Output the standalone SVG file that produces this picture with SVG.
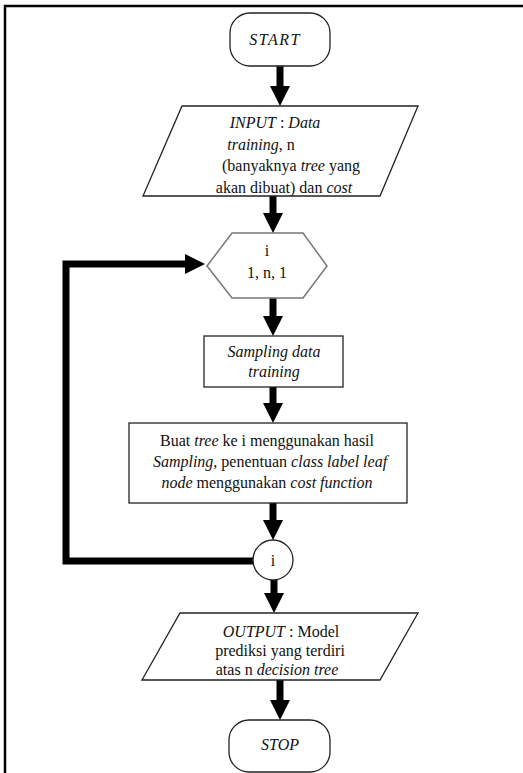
<svg xmlns="http://www.w3.org/2000/svg" width="523" height="773" viewBox="0 0 523 773">
<style>
  .t { font-family: "Liberation Serif", "Times New Roman", serif; font-size: 16px; fill: #111; text-anchor: middle; }
  .i { font-style: italic; }
  .shape { fill: #fff; stroke: #222; stroke-width: 1.3; }
  .hex { fill: #fff; stroke: #777; stroke-width: 1.5; }
  .conn { fill: none; stroke: #000; stroke-width: 7; stroke-linejoin: miter; }
</style>
<defs>
  <marker id="ah" markerUnits="userSpaceOnUse" markerWidth="20" markerHeight="20" refX="0" refY="10" orient="auto">
    <path d="M0,0 L20,10 L0,20 Z" fill="#000"/>
  </marker>
</defs>
<rect width="523" height="773" fill="#fff"/>
<path d="M5,773 V6 H523" fill="none" stroke="#000" stroke-width="2.5"/>

<g id="connectors">
  <line class="conn" x1="280" y1="66" x2="280" y2="86" marker-end="url(#ah)"/>
  <line class="conn" x1="273" y1="196" x2="273" y2="213" marker-end="url(#ah)"/>
  <line class="conn" x1="273" y1="298" x2="273" y2="316" marker-end="url(#ah)"/>
  <line class="conn" x1="273" y1="387" x2="273" y2="403" marker-end="url(#ah)"/>
  <line class="conn" x1="273" y1="503" x2="273" y2="520" marker-end="url(#ah)"/>
  <line class="conn" x1="274" y1="580" x2="274" y2="593" marker-end="url(#ah)"/>
  <line class="conn" x1="280" y1="680" x2="280" y2="700" marker-end="url(#ah)"/>
  <path class="conn" d="M254,561 H66 V264 H185" marker-end="url(#ah)"/>
</g>

<g id="start">
  <rect class="shape" x="230" y="13" width="100" height="53" rx="20" ry="20"/>
  <text class="t i" x="275" y="45" font-size="19" letter-spacing="1.5">START</text>
</g>

<g id="input">
  <polygon class="shape" points="182,106 418,106 380,196 143,196"/>
  <text class="t" x="275" y="128"><tspan class="i">INPUT</tspan> : <tspan class="i">Data</tspan></text>
  <text class="t" x="261" y="150"><tspan class="i">training</tspan>, n</text>
  <text class="t" x="291" y="171">(banyaknya <tspan class="i">tree</tspan> yang</text>
  <text class="t" x="284" y="193">akan dibuat) dan <tspan class="i">cost</tspan></text>
</g>

<g id="loop">
  <polygon class="hex" points="232,233 303,233 327,266 303,298 232,298 207,266"/>
  <text class="t" x="267" y="256">i</text>
  <text class="t" x="267" y="278">1, n, 1</text>
</g>

<g id="sampling">
  <rect class="shape" x="204" y="336" width="139" height="51"/>
  <text class="t i" x="274" y="357">Sampling data</text>
  <text class="t i" x="274" y="377">training</text>
</g>

<g id="buat-tree">
  <rect class="shape" x="129" y="423" width="278" height="80"/>
  <text class="t" x="267" y="446">Buat <tspan class="i">tree</tspan> ke i menggunakan hasil</text>
  <text class="t" x="270" y="467"><tspan class="i">Sampling</tspan>, penentuan <tspan class="i">class label leaf</tspan></text>
  <text class="t" x="267" y="488"><tspan class="i">node</tspan> menggunakan <tspan class="i">cost function</tspan></text>
</g>

<g id="loop-end">
  <circle class="shape" cx="273" cy="560" r="20"/>
  <text class="t" x="273" y="566">i</text>
</g>

<g id="output">
  <polygon class="shape" points="180,613 418,613 380,680 142,680"/>
  <text class="t" x="281" y="637"><tspan class="i">OUTPUT</tspan> : Model</text>
  <text class="t" x="280" y="656">prediksi yang terdiri</text>
  <text class="t" x="277" y="675">atas n <tspan class="i">decision tree</tspan></text>
</g>

<g id="stop">
  <rect class="shape" x="229" y="720" width="101" height="52" rx="20" ry="20"/>
  <text class="t i" x="280" y="750" font-size="18">STOP</text>
</g>
</svg>
